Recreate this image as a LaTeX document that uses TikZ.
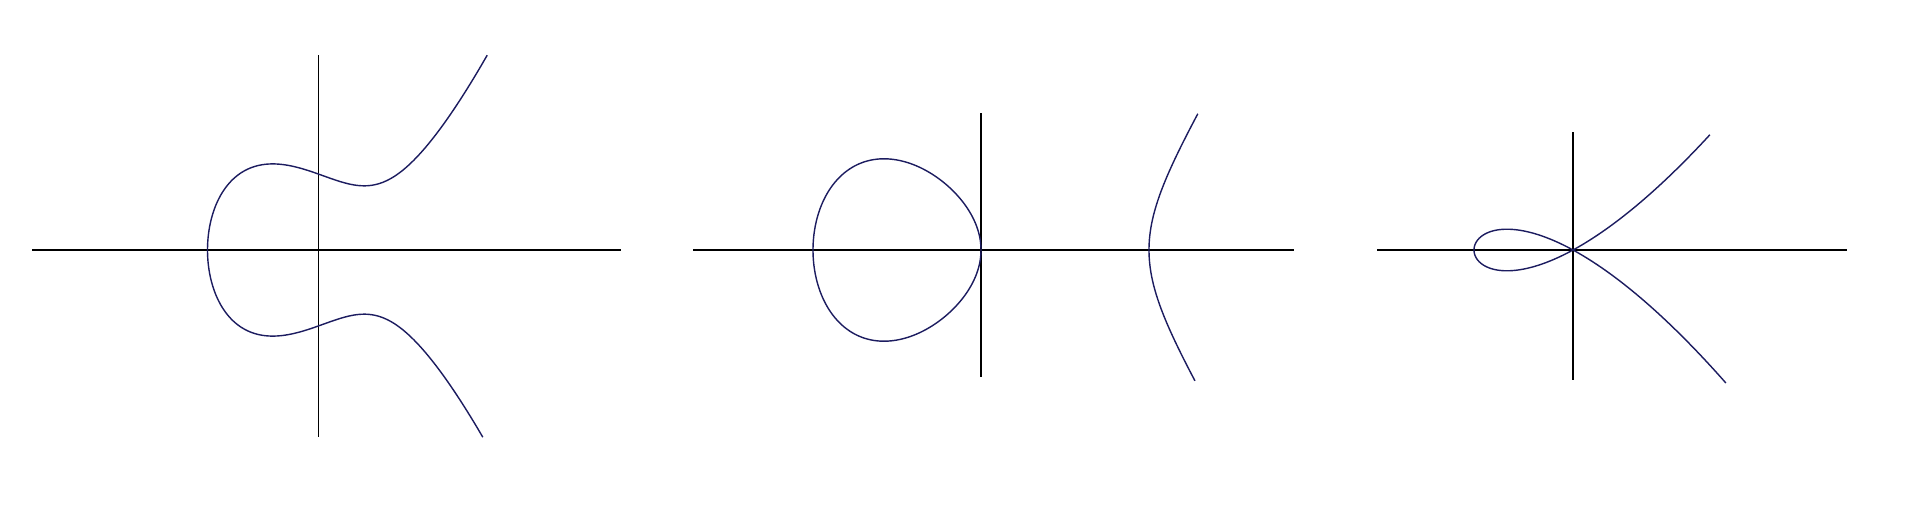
\documentclass[tikz,border=0pt]{standalone}
\begin{document}
\begin{tikzpicture}[x=0.01cm,y=-0.01cm]
\definecolor{curvecol}{RGB}{28,28,96}
\tikzset{axisline/.style={black,line width=0.45pt},
  curveline/.style={curvecol,line width=0.4pt,line join=round}}
\useasboundingbox[fill=white] (0,0) rectangle (1914,518);
% panel 1: y^2 = x^3 - 3x + 7
\coordinate (a1l) at (32,250); \coordinate (a1r) at (621,250);
\coordinate (a1t) at (318.5,55); \coordinate (a1b) at (318.5,437);
\draw[axisline] (a1l) -- (a1r);
\draw[axisline] (a1t) -- (a1b);
\draw[curveline] plot[domain=-2.453:2.473,samples=241,smooth,variable=\t]
  ({318.5+45.75*(-2.426+\t*\t)},
   {250-28.7*\t*sqrt((-2.426+\t*\t)^2-2.426*(-2.426+\t*\t)+2.885)});
% panel 2: y^2 = x^3 - x
\coordinate (a2l) at (693,250); \coordinate (a2r) at (1294,250);
\coordinate (a2t) at (981,113); \coordinate (a2b) at (981,377);
\draw[axisline] (a2l) -- (a2r);
\draw[axisline] (a2t) -- (a2b);
\draw[curveline] plot[domain=0:360,samples=181,smooth,variable=\a]
  ({981-168*(1-cos(\a))/2},
   {250-147*sin(\a)/2*sqrt(1+(1-cos(\a))/2)});
\draw[curveline] plot[domain=-0.523:0.540,samples=121,smooth,variable=\t]
  ({981+168*(1+\t*\t)},
   {250-147*\t*sqrt((1+\t*\t)*(2+\t*\t))});
% panel 3: y^2 = x^3 + x^2
\coordinate (a3l) at (1377,250); \coordinate (a3r) at (1847,250);
\coordinate (a3t) at (1573,132); \coordinate (a3b) at (1573,380);
\draw[axisline] (a3l) -- (a3r);
\draw[axisline] (a3t) -- (a3b);
\draw[curveline] plot[domain=-1.595:1.546,samples=241,smooth,variable=\t]
  ({1573+99*(\t*\t-1)},
   {250-54*(\t*\t-1)*\t});
\end{tikzpicture}
\end{document}
